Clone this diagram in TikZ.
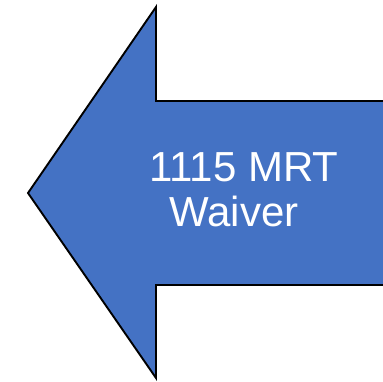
\documentclass[tikz,border=0pt]{standalone}
\usepackage{fontspec}
\setmainfont{Liberation Sans}
\definecolor{arrowblue}{HTML}{4472C4}
\begin{document}
\begin{tikzpicture}[x=1pt,y=-1pt]
      \useasboundingbox (0,0) rectangle (383,381);
      \clip (0,0) rectangle (383,381);
      \draw[fill=arrowblue,line width=1.9pt,line join=miter]
        (28,193) -- (156,7) -- (156,101) -- (395,101)
        -- (395,285) -- (156,285) -- (156,378) -- cycle;
      \node[text=white,align=center,font=\fontsize{42}{45}\selectfont,inner sep=0pt]
        (label) at (244,190) {1115 MRT\\Waiver\hspace*{20pt}};
    \end{tikzpicture}
\end{document}
